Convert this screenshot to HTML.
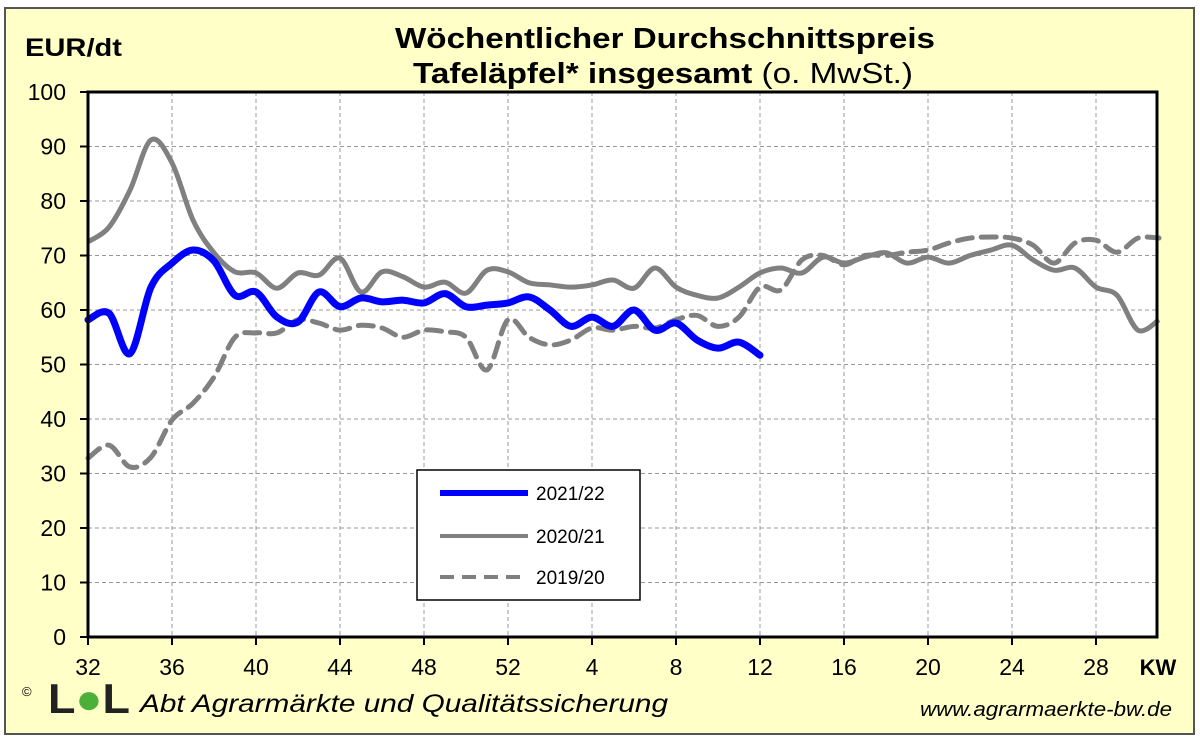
<!DOCTYPE html>
<html><head><meta charset="utf-8"><style>
body{margin:0;width:1200px;height:744px;background:#fff;overflow:hidden;font-family:"Liberation Sans",sans-serif}
svg text{font-family:"Liberation Sans",sans-serif}
</style></head><body>
<svg id="chart" width="1200" height="744" viewBox="0 0 1200 744" xmlns="http://www.w3.org/2000/svg">
<rect x="5" y="8" width="1189" height="726" fill="#ffffc8" stroke="#555" stroke-width="2"/>
<text x="395" y="48" textLength="540" lengthAdjust="spacingAndGlyphs" font-size="29" font-weight="bold">Wöchentlicher Durchschnittspreis</text>
<text x="413" y="83" textLength="500" lengthAdjust="spacingAndGlyphs" font-size="29"><tspan font-weight="bold">Tafeläpfel* insgesamt</tspan> (o. MwSt.)</text>
<text x="25" y="56" textLength="97" lengthAdjust="spacingAndGlyphs" font-size="25" font-weight="bold">EUR/dt</text>
<rect x="88" y="92" width="1069" height="545" fill="#fff"/>
<g id="grid"></g>
<g id="series"></g>
<rect x="88" y="92" width="1069" height="545" fill="none" stroke="#000" stroke-width="3"/>
<g id="axes"></g>
<g>
<rect x="417" y="470" width="223" height="130" fill="#fff" stroke="#000" stroke-width="1.5"/>
<line x1="440" y1="493" x2="528" y2="493" stroke="#0000ff" stroke-width="6"/>
<text x="536" y="500" font-size="19">2021/22</text>
<line x1="440" y1="536" x2="528" y2="536" stroke="#808080" stroke-width="4"/>
<text x="536" y="543" font-size="19">2020/21</text>
<line x1="440" y1="577" x2="528" y2="577" stroke="#808080" stroke-width="4" stroke-dasharray="14,8"/>
<text x="536" y="584" font-size="19">2019/20</text>
</g>
<text x="1158" y="675" text-anchor="middle" font-size="22" font-weight="bold">KW</text>
<text x="22" y="696" font-size="13">©</text>
<text x="48" y="713" textLength="82" lengthAdjust="spacingAndGlyphs" font-size="42" font-weight="bold" fill="#222">L<tspan fill="#4caf3a">●</tspan>L</text>
<text x="140" y="712" textLength="528" lengthAdjust="spacingAndGlyphs" font-size="25" font-style="italic">Abt  Agrarmärkte und Qualitätssicherung</text>
<text x="920" y="716" textLength="252" lengthAdjust="spacingAndGlyphs" font-size="20" font-style="italic">www.agrarmaerkte-bw.de</text>
</svg>
<script>
const weekLabels=[32,33,34,35,36,37,38,39,40,41,42,43,44,45,46,47,48,49,50,51,52,1,2,3,4,5,6,7,8,9,10,11,12,13,14,15,16,17,18,19,20,21,22,23,24,25,26,27,28,29,30,31];
const xTickLabels=["32","36","40","44","48","52","4","8","12","16","20","24","28"];
const yTickLabels=[0,10,20,30,40,50,60,70,80,90,100];
const s2122=[58.2,59.4,52,64.2,68.6,71,69,62.7,63.3,58.7,57.8,63.3,60.6,62.2,61.5,61.8,61.3,63,60.6,60.9,61.3,62.4,60,57,58.7,57,60,56.3,57.6,54.5,53,54.1,51.7];
const s2021=[72.5,75.2,82,91.2,87,76.5,70.5,67,66.8,64,66.8,66.4,69.5,63.3,67,66.1,64.2,65.1,63.1,67.3,67,65,64.6,64.2,64.6,65.5,64,67.7,64.2,62.7,62.2,64.2,66.8,67.7,66.8,69.7,68.6,69.7,70.5,68.6,69.7,68.6,70,71,71.9,69.2,67.3,67.7,64.2,62.7,56.3,58.2];
const s1920=[32.8,35.2,31.2,33,39.8,42.9,47.7,55,55.8,55.8,58.2,57.6,56.3,57.2,56.7,55,56.3,56,55,49,58.2,55,53.6,54.5,56.7,56.3,57,56.7,58.2,59,57,58.7,64.2,63.7,69.2,70,68.3,70,70,70.6,71,72.3,73.2,73.4,73.2,71.9,68.6,72.3,72.8,70.6,73.2,73.2];
const X0=88,DX=21,Y0=637,PY=5.45;
const xs=i=>X0+i*DX, ys=v=>Y0-v*PY;
const NS="http://www.w3.org/2000/svg";
function mk(t,p){const e=document.createElementNS(NS,t);for(const k in p)e.setAttribute(k,p[k]);return e;}
const grid=document.getElementById('grid'),axes=document.getElementById('axes'),ser=document.getElementById('series');
yTickLabels.forEach(v=>{
 if(v>0&&v<100){const l=mk('line',{x1:88,x2:1157,y1:ys(v),y2:ys(v),stroke:'#999','stroke-width':1,'stroke-dasharray':'4,3'});
 
 grid.appendChild(l);}
 const tk=mk('line',{x1:80,x2:88,y1:ys(v),y2:ys(v),stroke:'#000','stroke-width':2});
 
 axes.appendChild(tk);
 const t=mk('text',{x:66,y:ys(v)+8,'text-anchor':'end','font-size':23});t.textContent=v;
 
 axes.appendChild(t);
});
xTickLabels.forEach((lab,k)=>{
 const i=weekLabels.indexOf(+lab),x=xs(i);
 if(k>0){const l=mk('line',{x1:x,x2:x,y1:92,y2:637,stroke:'#999','stroke-width':1,'stroke-dasharray':'4,3'});
 
 grid.appendChild(l);}
 const tk=mk('line',{x1:x,x2:x,y1:637,y2:645,stroke:'#000','stroke-width':2});
 
 axes.appendChild(tk);
 const t=mk('text',{x:x,y:675,'text-anchor':'middle','font-size':23});t.textContent=lab;
 
 axes.appendChild(t);
});
function path(vals){
 const p=vals.map((v,i)=>[xs(i),ys(v)]);let d=`M${p[0][0]},${p[0][1]}`;
 for(let i=0;i<p.length-1;i++){const a=p[Math.max(0,i-1)],b=p[i],c=p[i+1],e=p[Math.min(p.length-1,i+2)];
 d+=` C${b[0]+(c[0]-a[0])/6},${b[1]+(c[1]-a[1])/6} ${c[0]-(e[0]-b[0])/6},${c[1]-(e[1]-b[1])/6} ${c[0]},${c[1]}`;}
 return d;}
const p1=mk('path',{d:path(s1920),fill:'none',stroke:'#808080','stroke-width':5,'stroke-dasharray':'15,9','stroke-linecap':'round'});

ser.appendChild(p1);
const p2=mk('path',{d:path(s2021),fill:'none',stroke:'#808080','stroke-width':5});

ser.appendChild(p2);
const p3=mk('path',{d:path(s2122),fill:'none',stroke:'#0000ff','stroke-width':7,'stroke-linecap':'round'});

ser.appendChild(p3);
</script>
</body></html>
